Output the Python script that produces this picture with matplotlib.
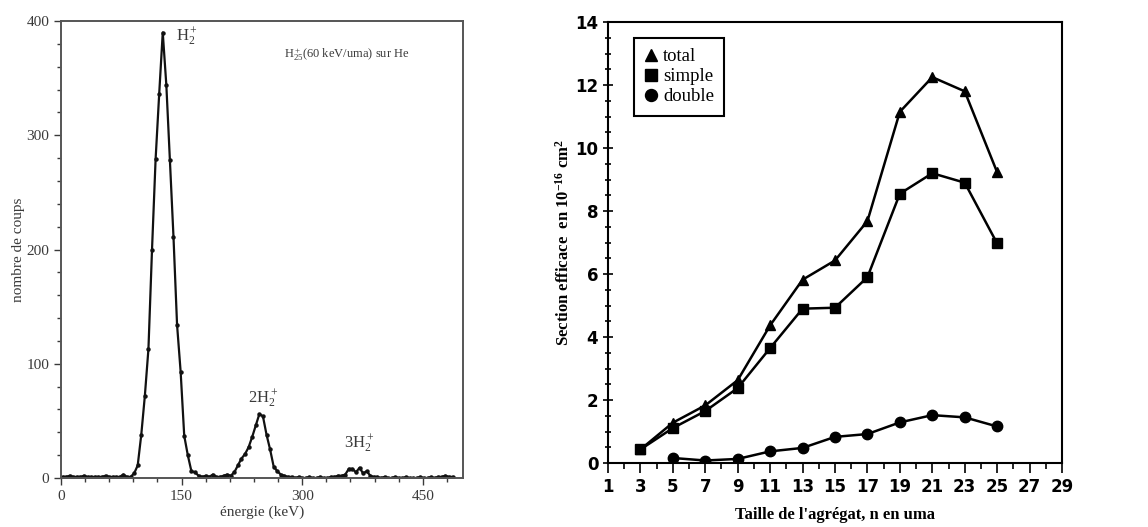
import numpy as np
import matplotlib.pyplot as plt
from matplotlib.ticker import MultipleLocator

plt.rcParams['mathtext.fontset'] = 'custom'
plt.rcParams['mathtext.rm'] = 'Liberation Serif'
plt.rcParams['mathtext.it'] = 'Liberation Serif:italic'
plt.rcParams['mathtext.bf'] = 'Liberation Serif:bold'

# left panel: spectrum, channel energies e = 2 + 4.45*i keV
e0 = 2.0; de = 4.45
counts = [1, 1, 2, 1, 1, 1, 2, 1, 1, 1, 1, 1, 2, 1, 1, 1, 1, 3, 1, 1,
          4, 11, 38, 72, 113, 200, 279, 336, 390, 344, 278, 211, 134, 93, 37, 20,
          6, 5, 2, 1, 2, 1, 3, 1, 1, 2, 3, 2, 5, 11, 17, 21, 27, 36, 46, 56,
          54, 38, 25, 10, 6, 3, 2, 1, 1, 0, 1, 0, 0, 1, 0, 0, 1, 0, 0, 1,
          1, 2, 2, 3, 8, 8, 5, 9, 4, 6, 2, 1, 1, 0, 1, 0, 0, 1, 0, 0,
          1, 0, 0, 0, 1, 0, 0, 1, 0, 1, 1, 2, 1, 1]
energy = e0 + de*np.arange(len(counts))

# right panel: cross sections vs cluster size
n_tot = [3, 5, 7, 9, 11, 13, 15, 17, 19, 21, 23, 25]
total = [0.43, 1.28, 1.83, 2.63, 4.37, 5.82, 6.43, 7.68, 11.15, 12.25, 11.8, 9.23]
simple = [0.43, 1.11, 1.65, 2.38, 3.65, 4.9, 4.93, 5.9, 8.55, 9.2, 8.9, 6.97]
n_dbl = [5, 7, 9, 11, 13, 15, 17, 19, 21, 23, 25]
double = [0.16, 0.08, 0.13, 0.37, 0.48, 0.83, 0.92, 1.29, 1.52, 1.45, 1.16]
xticks_right = list(range(1, 30, 2))

fig = plt.figure(figsize=(11.48, 5.27), dpi=100)
serif = ['Liberation Serif', 'DejaVu Serif']
gray = '#3a3a3a'

ax1 = fig.add_axes([0.0531, 0.093, 0.3502, 0.867])
ax1.plot(energy, counts, '-', color='#111111', lw=1.6, marker='o', ms=2.2)
ax1.set_xlim(0, 500)
ax1.set_ylim(0, 400)
ax1.xaxis.set_major_locator(MultipleLocator(150))
ax1.xaxis.set_minor_locator(MultipleLocator(30))
ax1.yaxis.set_major_locator(MultipleLocator(100))
ax1.yaxis.set_minor_locator(MultipleLocator(20))
ax1.tick_params(which='both', direction='out', colors=gray, labelsize=11, width=1.0)
ax1.tick_params(which='major', length=5)
ax1.tick_params(which='minor', length=3)
for lab in ax1.get_xticklabels() + ax1.get_yticklabels():
    lab.set_family(serif)
for s in ax1.spines.values():
    s.set_color('#555555'); s.set_linewidth(1.4)
ax1.set_xlabel('énergie (keV)', family=serif, fontsize=11, color=gray, labelpad=2)
ax1.set_ylabel('nombre de coups', family=serif, fontsize=11, color=gray, labelpad=1)
ax1.text(157, 386, r'H$_2^+$', family=serif, fontsize=12, color=gray, ha='center', va='center')
ax1.text(251, 69, r'2H$_2^+$', family=serif, fontsize=12, color=gray, ha='center', va='center')
ax1.text(371, 30, r'3H$_2^+$', family=serif, fontsize=12, color=gray, ha='center', va='center')
ax1.text(278, 371, r'H$_{25}^+$(60 keV/uma) sur He', family=serif, fontsize=9, color=gray,
         ha='left', va='center')

ax2 = fig.add_axes([0.5296, 0.1214, 0.3955, 0.8368])
ax2.plot(n_tot, total, '-', color='black', lw=1.8, marker='^', ms=7, label='total')
ax2.plot(n_tot, simple, '-', color='black', lw=1.8, marker='s', ms=7, label='simple')
ax2.plot(n_dbl, double, '-', color='black', lw=1.8, marker='o', ms=7.5, label='double')
ax2.set_xlim(1, 29)
ax2.set_ylim(0, 14)
ax2.set_xticks(xticks_right)
ax2.xaxis.set_minor_locator(MultipleLocator(1))
ax2.yaxis.set_major_locator(MultipleLocator(2))
ax2.yaxis.set_minor_locator(MultipleLocator(0.5))
ax2.tick_params(which='both', labelsize=12, width=1.2)
ax2.tick_params(axis='y', which='both', direction='inout')
ax2.tick_params(axis='x', which='both', direction='out')
ax2.tick_params(which='major', length=7)
ax2.tick_params(which='minor', length=4.5)
for lab in ax2.get_xticklabels() + ax2.get_yticklabels():
    lab.set_fontweight('bold')
for s in ax2.spines.values():
    s.set_linewidth(1.5)
ax2.set_xlabel("Taille de l'agrégat, n en uma", family=serif, fontweight='bold', fontsize=12, labelpad=8)
ax2.set_ylabel(r'Section efficace  en $\mathbf{10^{-16}}$ cm$\mathbf{^2}$', family=serif,
               fontweight='bold', fontsize=12, labelpad=2)
leg = ax2.legend(loc='upper left', bbox_to_anchor=(0.057, 0.964), prop={'family': serif, 'size': 13.5},
                 fancybox=False, edgecolor='black', framealpha=1, handlelength=0.7,
                 handletextpad=0.3, borderpad=0.55, labelspacing=0.15, markerscale=1.15,
                 borderaxespad=0)
leg.get_frame().set_linewidth(1.5)
for h in leg.legend_handles:
    h.set_linestyle('none')

fig.savefig('out.png', dpi=100)
